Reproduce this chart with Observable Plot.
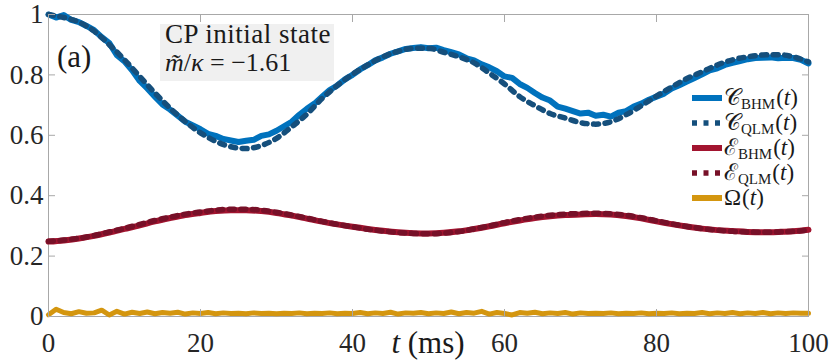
<!DOCTYPE html>
<html><head><meta charset="utf-8">
<script src="https://cdn.jsdelivr.net/npm/d3@7"></script>
<script src="https://cdn.jsdelivr.net/npm/@observablehq/plot@0.6"></script>
<style>body{margin:0;background:#fff}</style>
</head><body><div id="chart"></div>
<script>
// time grids (ms)
const stepFine = 1;   // C_BHM and Omega sampled every 1 ms
const stepCoarse = 2; // other series every 2 ms

const cBHM = [1.000,0.990,0.998,0.982,0.975,0.962,0.948,0.925,0.905,0.865,
  0.845,0.815,0.780,0.755,0.728,0.702,0.685,0.665,0.645,0.633,
  0.620,0.605,0.598,0.588,0.583,0.578,0.582,0.585,0.598,0.603,
  0.615,0.630,0.645,0.668,0.688,0.705,0.728,0.750,0.765,0.785,
  0.800,0.818,0.832,0.848,0.858,0.870,0.878,0.886,0.889,0.892,
  0.888,0.890,0.882,0.875,0.868,0.855,0.848,0.835,0.825,0.812,
  0.795,0.790,0.770,0.757,0.740,0.725,0.715,0.695,0.688,0.680,
  0.672,0.675,0.665,0.668,0.662,0.675,0.680,0.695,0.705,0.718,
  0.728,0.738,0.755,0.766,0.778,0.790,0.802,0.815,0.822,0.833,
  0.840,0.846,0.852,0.856,0.857,0.858,0.855,0.857,0.856,0.850,0.838];

const cQLM = [1.000,0.990,0.975,0.945,0.900,0.850,0.795,0.740,0.690,0.645,
  0.608,0.580,0.562,0.556,0.566,0.590,0.628,0.670,0.722,0.765,
  0.802,0.833,0.860,0.878,0.888,0.888,0.875,0.860,0.840,0.806,
  0.770,0.728,0.698,0.672,0.657,0.642,0.637,0.645,0.668,0.698,
  0.730,0.760,0.788,0.810,0.833,0.850,0.860,0.866,0.867,0.860,0.843];

const eBHM = [0.248,0.252,0.258,0.267,0.278,0.290,0.302,0.315,0.326,0.336,
  0.343,0.349,0.352,0.352,0.349,0.343,0.334,0.324,0.314,0.305,
  0.297,0.290,0.284,0.279,0.276,0.275,0.277,0.282,0.290,0.299,
  0.309,0.318,0.326,0.332,0.336,0.338,0.339,0.338,0.333,0.325,
  0.315,0.306,0.298,0.291,0.286,0.283,0.280,0.279,0.280,0.282,0.287];

const eQLM = [0.249,0.253,0.259,0.268,0.280,0.292,0.305,0.318,0.329,0.339,
  0.346,0.352,0.355,0.355,0.352,0.345,0.336,0.326,0.315,0.305,
  0.297,0.289,0.283,0.278,0.275,0.274,0.276,0.281,0.290,0.300,
  0.311,0.321,0.329,0.335,0.339,0.341,0.342,0.340,0.335,0.327,
  0.317,0.307,0.298,0.291,0.286,0.282,0.280,0.279,0.280,0.282,0.286];

const omega = [0.006,0.024,0.013,0.009,0.016,0.011,0.012,0.021,0.005,0.017,
  0.008,0.014,0.010,0.015,0.009,0.013,0.011,0.014,0.008,0.012,
  0.010,0.013,0.009,0.012,0.010,0.011,0.009,0.012,0.010,0.011,
  0.009,0.011,0.010,0.012,0.009,0.011,0.010,0.012,0.009,0.011,
  0.010,0.013,0.009,0.012,0.010,0.014,0.008,0.012,0.011,0.013,
  0.009,0.012,0.010,0.015,0.009,0.013,0.011,0.017,0.008,0.013,
  0.010,0.005,0.013,0.011,0.014,0.009,0.012,0.010,0.013,0.008,
  0.012,0.010,0.011,0.010,0.012,0.009,0.011,0.010,0.012,0.009,
  0.011,0.010,0.012,0.009,0.011,0.010,0.013,0.009,0.012,0.010,
  0.013,0.009,0.012,0.010,0.013,0.009,0.012,0.010,0.012,0.011,0.011];

const xTicks = [0, 20, 40, 60, 80, 100];
const yTicks = [0, 0.2, 0.4, 0.6, 0.8, 1];
const xLabelAt = 50;

const colors = {cBHM:"#0072BD", cQLM:"#154f7c", eBHM:"#A2142F", eQLM:"#771028", omega:"#D4960F"};
const legendItems = [
  {key:"cBHM", main:"𝒞", sub:"BHM", dotted:false},
  {key:"cQLM", main:"𝒞", sub:"QLM", dotted:true},
  {key:"eBHM", main:"ℰ", sub:"BHM", dotted:false},
  {key:"eQLM", main:"ℰ", sub:"QLM", dotted:true},
  {key:"omega", main:"Ω", sub:"", dotted:false}
];

const toRows = (arr, step) => arr.map((v, i) => ({t: i * step, v}));
const D = {
  cBHM: toRows(cBHM, stepFine), cQLM: toRows(cQLM, stepCoarse),
  eBHM: toRows(eBHM, stepCoarse), eQLM: toRows(eQLM, stepCoarse),
  omega: toRows(omega, stepFine)
};

const solidW = 6, dotW = 5.5, dash = "5,6.5";
const axisGrey = "#a8a8a8";
const serif = "Times New Roman, Liberation Serif, DejaVu Serif, serif";
const mathSerif = "DejaVu Serif";

const plot = Plot.plot({
  width: 830, height: 364,
  marginLeft: 48, marginRight: 22, marginTop: 14, marginBottom: 48,
  x: {domain: [0, 100]},
  y: {domain: [0, 1]},
  style: {fontFamily: serif, fontSize: "27px", color: "#262626", background: "white", overflow: "visible"},
  marks: [
    Plot.frame({stroke: axisGrey, strokeWidth: 1}),
    Plot.line(D.cBHM, {x: "t", y: "v", stroke: colors.cBHM, strokeWidth: solidW, strokeLinejoin: "round", strokeLinecap: "round"}),
    Plot.line(D.cQLM, {x: "t", y: "v", stroke: colors.cQLM, strokeWidth: dotW, strokeDasharray: dash, curve: "monotone-x"}),
    Plot.line(D.eBHM, {x: "t", y: "v", stroke: colors.eBHM, strokeWidth: solidW, curve: "monotone-x", strokeLinecap: "round"}),
    Plot.line(D.eQLM, {x: "t", y: "v", stroke: colors.eQLM, strokeWidth: dotW, strokeDasharray: dash, curve: "monotone-x"}),
    Plot.line(D.omega, {x: "t", y: "v", stroke: colors.omega, strokeWidth: 5, strokeLinejoin: "round", strokeLinecap: "round"}),
    // inward ticks on all four sides
    Plot.axisX(xTicks, {anchor: "bottom", tickSize: -7, tickFormat: () => "", stroke: axisGrey, label: null}),
    Plot.axisX(xTicks, {anchor: "top", tickSize: -7, tickFormat: () => "", stroke: axisGrey, label: null}),
    Plot.axisY(yTicks, {anchor: "left", tickSize: -7, tickFormat: () => "", stroke: axisGrey, label: null}),
    Plot.axisY(yTicks, {anchor: "right", tickSize: -7, tickFormat: () => "", stroke: axisGrey, label: null}),
    // tick labels
    Plot.axisX(xTicks, {anchor: "bottom", tickSize: 0, tickPadding: 16, tickFormat: d => String(d), label: null, fill: "#262626", fontFamily: serif}),
    Plot.axisY(yTicks, {anchor: "left", tickSize: 0, tickPadding: 5, tickFormat: d => String(d), label: null, fill: "#262626", fontFamily: serif})
  ]
});

document.getElementById("chart").appendChild(plot);
const svg = d3.select(plot);
const xs = plot.scale("x");

function mathLine(g, x, y, parts, size, anchor, family) {
  const t = g.append("text").attr("x", x).attr("y", y)
    .attr("font-family", family || serif).attr("font-size", size).attr("fill", "#1a1a1a")
    .attr("text-anchor", anchor || "start");
  let shift = 0;
  for (const p of parts) {
    const s = t.append("tspan").text(p.t);
    if (p.italic) s.attr("font-style", "italic");
    if (p.size) s.attr("font-size", p.size);
    if (p.font) s.attr("font-family", p.font);
    if (p.dx) s.attr("dx", p.dx);
    const want = p.sub ? 4 : 0;
    if (want !== shift) { s.attr("dy", want - shift); shift = want; }
  }
  return t;
}

// x-axis label between ticks
mathLine(svg, xs.apply(xLabelAt), 353, [{t: "t", italic: true}, {t: " (ms)"}], 31, "middle");

// panel label
mathLine(svg, 57, 67, [{t: "(a)"}], 31);

// info box
const box = svg.append("g");
box.append("rect").attr("x", 160).attr("y", 24).attr("width", 174).attr("height", 57).attr("fill", "#f0f0f0");
mathLine(box, 165, 43, [{t: "CP initial state"}], 27).attr("letter-spacing", 0.5);
mathLine(box, 165, 71, [{t: "m̃", italic: true}, {t: "/"}, {t: "κ", italic: true}, {t: " = −1.61"}], 26);

// legend
const lg = svg.append("g");
legendItems.forEach((it, i) => {
  const yc = 98 + i * 25;
  lg.append("line").attr("x1", 692).attr("x2", 722).attr("y1", yc).attr("y2", yc)
    .attr("stroke", colors[it.key]).attr("stroke-width", it.dotted ? dotW : solidW)
    .attr("stroke-dasharray", it.dotted ? "5,6.5" : null);
  const parts = [{t: it.main, font: it.main === "Ω" ? serif : mathSerif}];
  if (it.sub) parts.push({t: it.sub, sub: true, size: 15});
  parts.push({t: "(", sub: false, dx: 1}, {t: "t", italic: true}, {t: ")"});
  mathLine(lg, 724, yc + 7, parts, 23);
});
</script>
</body></html>
